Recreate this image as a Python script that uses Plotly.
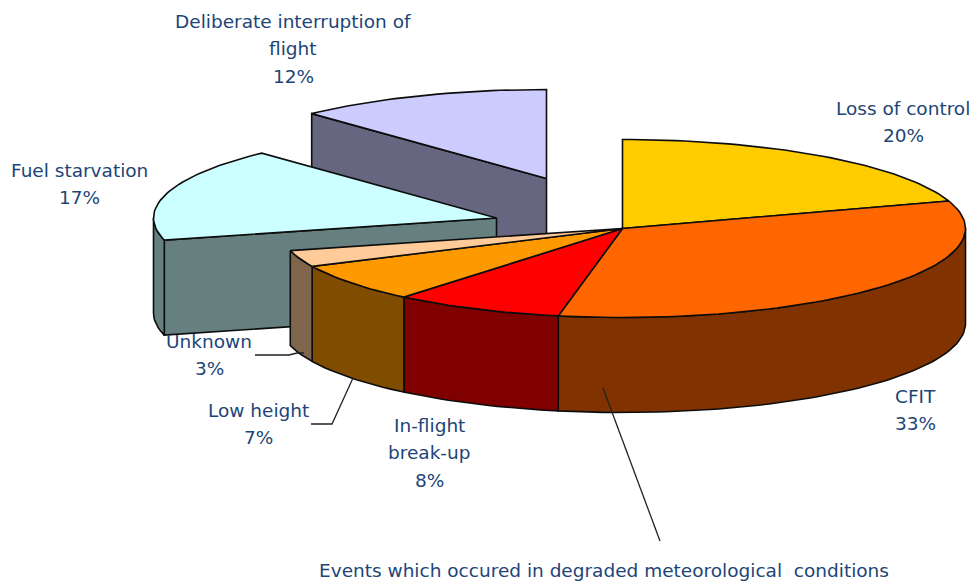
import math
import plotly.graph_objects as go

categories = ["Loss of control", "CFIT", "In-flight break-up", "Low height", "Unknown",
              "Fuel starvation", "Deliberate interruption of flight"]
values = [20, 33, 8, 7, 3, 17, 12]
top_colors = ["#FFCC00", "#FF6600", "#FF0000", "#FF9900", "#FFCC99", "#CCFFFF", "#CCCCFF"]
side_colors = ["#806600", "#803300", "#800000", "#804D00", "#80664D", "#668080", "#666680"]

# Pie geometry (pixels of the page)
CX, CY, RX, RY, DEPTH = 622.5, 228.5, 343, 89, 95
offsets = [(0, 0), (0, 0), (0, 0), (0, 0), (0, 0), (-126, -10.5), (-76, -50)]
draw_order = [6, 5, 0, 1, 2, 3, 4]
LINE = "#0d0d0d"
LW = 1.6
TEXT = "#1d4577"
FONT = "DejaVu Sans"
FS = 18.5

label_lines = [
    (903, 108, "Loss of control"), (903, 135, "20%"),
    (915, 396, "CFIT"), (915, 423, "33%"),
    (429, 425, "In-flight"), (429, 452, "break-up"), (429, 480, "8%"),
    (258, 410, "Low height"), (258, 437, "7%"),
    (209, 341, "Unknown"), (209, 368, "3%"),
    (79, 170, "Fuel starvation"), (79, 197, "17%"),
    (293, 21, "Deliberate interruption of"), (293, 48, "flight"), (293, 76, "12%"),
    (604, 570, "Events which occured in degraded meteorological  conditions"),
]
leaders = [
    [(255, 355), (289, 355), (297, 353), (304, 353)],
    [(311, 424), (332, 424), (353, 378)],
    [(603, 388), (660, 541)],
]


def pt(a, ox, oy, z=0):
    r = math.radians(a)
    return (CX + ox + RX * math.sin(r), CY + oy - RY * math.cos(r) + z)


def arc(a0, a1, ox, oy, z=0):
    n = max(2, int(abs(a1 - a0) / 1.5) + 1)
    return [pt(a0 + (a1 - a0) * i / (n - 1), ox, oy, z) for i in range(n)]


def poly(points, color):
    xs = [p[0] for p in points] + [points[0][0]]
    ys = [p[1] for p in points] + [points[0][1]]
    return go.Scatter(x=xs, y=ys, mode="lines", fill="toself", fillcolor=color,
                      line=dict(color=LINE, width=LW), hoverinfo="skip", showlegend=False)


total = sum(values)
starts, run = [], 0.0
for v in values:
    starts.append(run)
    run += v * 360.0 / total

fig = go.Figure()
for i in draw_order:
    a0 = starts[i]
    a1 = a0 + values[i] * 360.0 / total
    ox, oy = offsets[i]
    apex = (CX + ox, CY + oy)
    # inner cut face of a pulled slice that looks toward the viewer
    if (ox, oy) != (0, 0):
        e = pt(a0, ox, oy)
        fig.add_trace(poly([apex, e, (e[0], e[1] + DEPTH), (apex[0], apex[1] + DEPTH)], side_colors[i]))
    # outer wall, front half only
    w0, w1 = max(a0, 90), min(a1, 270)
    if w1 > w0:
        fig.add_trace(poly(arc(w0, w1, ox, oy) + arc(w1, w0, ox, oy, DEPTH), side_colors[i]))
    fig.add_trace(poly([apex] + arc(a0, a1, ox, oy), top_colors[i]))

for path in leaders:
    fig.add_trace(go.Scatter(x=[p[0] for p in path], y=[p[1] for p in path], mode="lines",
                             line=dict(color="#222222", width=1.3), hoverinfo="skip", showlegend=False))

for x, y, t in label_lines:
    fig.add_annotation(x=x, y=y, text=t, showarrow=False, xanchor="center", yanchor="middle",
                       font=dict(family=FONT, size=FS, color=TEXT))

fig.update_layout(
    width=974, height=588, margin=dict(l=0, r=0, t=0, b=0),
    paper_bgcolor="white", plot_bgcolor="white", showlegend=False,
    xaxis=dict(range=[0, 974], visible=False, fixedrange=True),
    yaxis=dict(range=[588, 0], visible=False, fixedrange=True),
)
fig.write_html("out.html", config={"displayModeBar": False},
               post_script="document.body.style.margin='0';document.body.style.overflow='hidden';")
